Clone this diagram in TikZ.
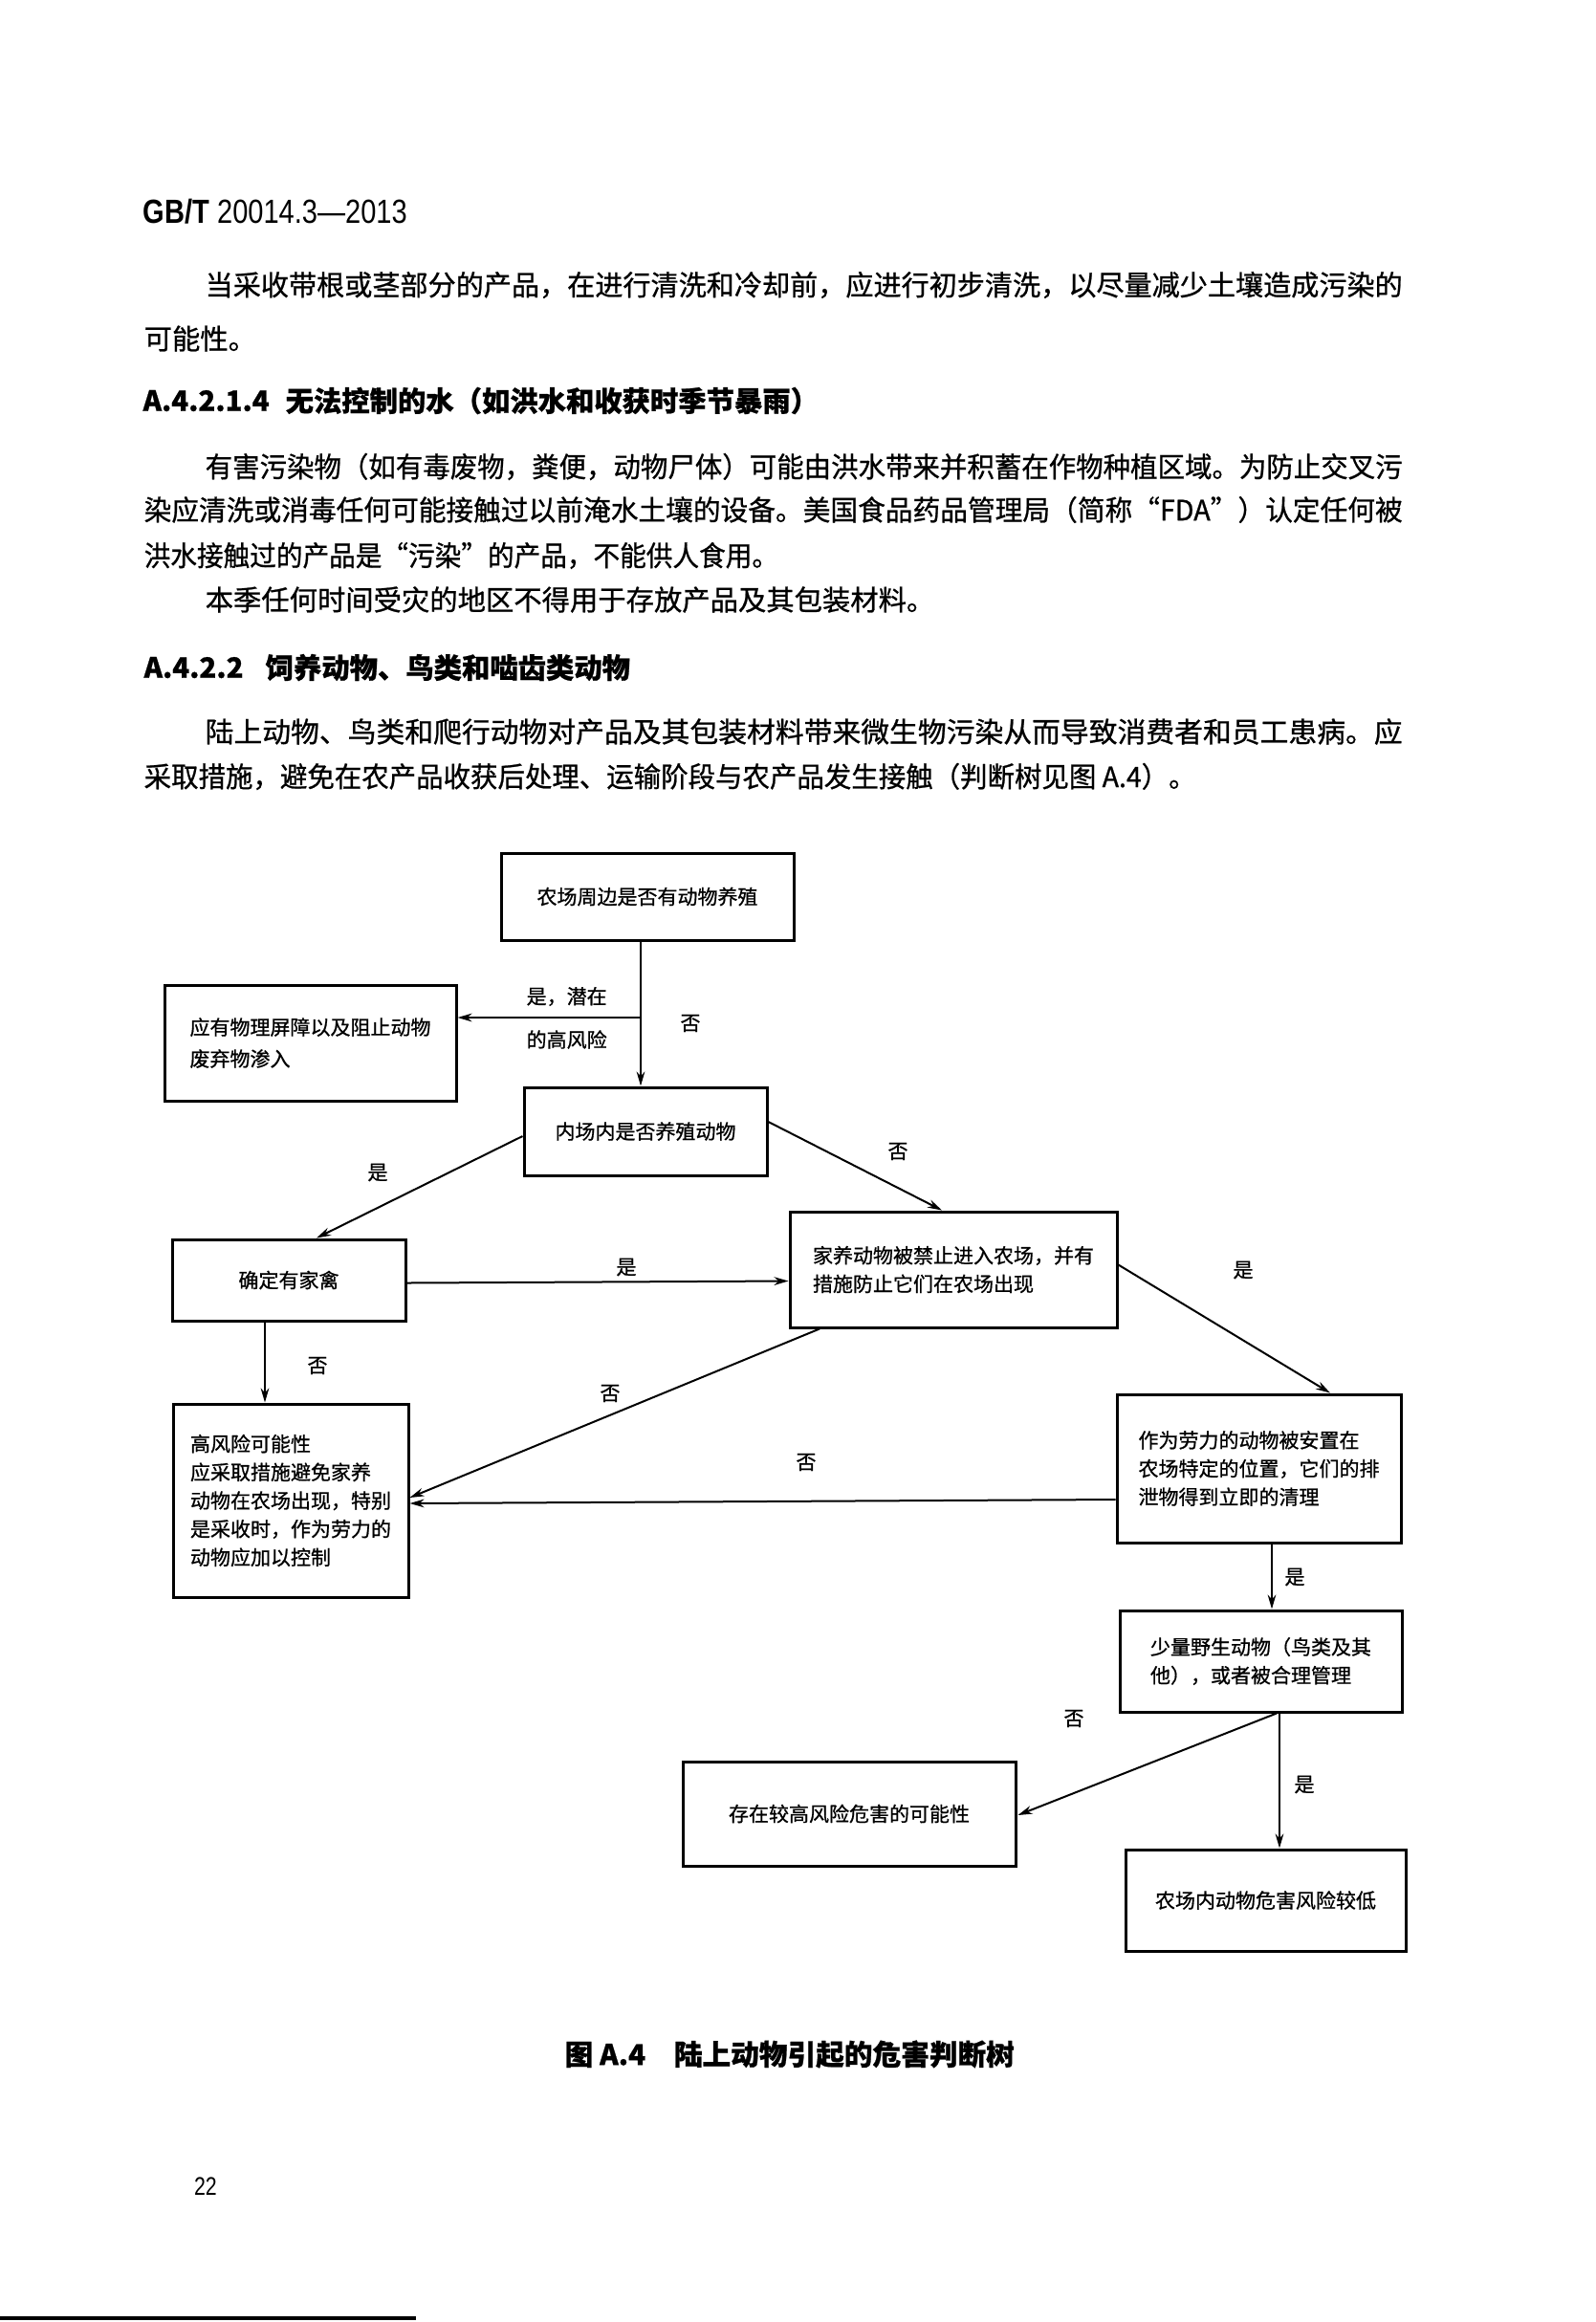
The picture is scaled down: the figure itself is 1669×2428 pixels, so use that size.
\documentclass[tikz,border=0pt]{standalone}
\usepackage{fontspec}
\setmainfont{Noto Sans CJK SC}[FakeBold=0.8]
\newfontfamily\latinfont{Liberation Sans}
\usetikzlibrary{arrows.meta,calc}
\begin{document}
\begin{tikzpicture}[x=0.3pt,y=-0.3pt,
  box/.style={draw, line width=0.9pt, inner sep=0pt, align=left,
    font=\fontsize{6.3pt}{8.9pt}\selectfont},
  lab/.style={inner sep=0pt, font=\fontsize{6.3pt}{8pt}\selectfont},
  conn/.style={line width=0.6pt, -{Stealth[length=4.5pt,width=2.6pt]}},
  body/.style={anchor=west, inner sep=0pt, font=\fontsize{8.8pt}{10pt}\selectfont},
  head/.style={anchor=west, inner sep=0pt, font=\fontsize{8.8pt}{10pt}\selectfont\bfseries}]
\fill[white] (0,0) rectangle (1669,2428);
\useasboundingbox (0,0) rectangle (1669,2428);

% page header and text
\node[anchor=west, inner sep=0pt] (hdr) at (149,221)
  {\scalebox{0.83}[1]{\latinfont\fontsize{10.5pt}{12pt}\selectfont\textbf{GB/T} 20014.3—2013}};
\node[body] (t1) at (214,298) {\resizebox{375.6pt}{\height}{当采收带根或茎部分的产品，在进行清洗和冷却前，应进行初步清洗，以尽量减少土壤造成污染的}};
\node[body] (t2) at (150,354) {可能性。};
\node[head] (h1) at (149,419) {A.4.2.1.4};
\node[head] (h1b) at (298,419) {无法控制的水（如洪水和收获时季节暴雨）};
\node[body] (t3) at (214,488) {\resizebox{375.6pt}{\height}{有害污染物（如有毒废物，粪便，动物尸体）可能由洪水带来并积蓄在作物种植区域。为防止交叉污}};
\node[body] (t4) at (150,533) {\resizebox{394.8pt}{\height}{染应清洗或消毒任何可能接触过以前淹水土壤的设备。美国食品药品管理局（简称“FDA”）认定任何被}};
\node[body] (t5) at (150,581) {\resizebox{199pt}{\height}{洪水接触过的产品是“污染”的产品，不能供人食用。}};
\node[body] (t6) at (214,627) {本季任何时间受灾的地区不得用于存放产品及其包装材料。};
\node[head] (h2) at (150,698) {A.4.2.2};
\node[head] (h2b) at (277,698) {饲养动物、鸟类和啮齿类动物};
\node[body] (t7) at (214,765) {\resizebox{375.6pt}{\height}{陆上动物、鸟类和爬行动物对产品及其包装材料带来微生物污染从而导致消费者和员工患病。应}};
\node[body] (t8) at (150,812) {\resizebox{330pt}{\height}{采取措施，避免在农产品收获后处理、运输阶段与农产品发生接触（判断树见图 A.4）。}};

% flowchart boxes
\node[box, minimum width=91.8pt, minimum height=27.3pt] (B1) at (677,937.5) {农场周边是否有动物养殖};
\node[box, minimum width=91.5pt, minimum height=36.3pt, font=\fontsize{6.3pt}{9.9pt}\selectfont] (B2) at (324.5,1090.5) {应有物理屏障以及阻止动物\\废弃物渗入};
\node[box, minimum width=76.2pt, minimum height=27.6pt] (B3) at (675,1183) {内场内是否养殖动物};
\node[box, minimum width=73.2pt, minimum height=25.5pt] (B4) at (302,1338.5) {确定有家禽};
\node[box, minimum width=102.6pt, minimum height=36.3pt] (B5) at (997,1327.5) {家养动物被禁止进入农场，并有\\措施防止它们在农场出现};
\node[box, minimum width=73.8pt, minimum height=60.6pt] (B6) at (304,1569) {高风险可能性\\应采取措施避免家养\\动物在农场出现，特别\\是采收时，作为劳力的\\动物应加以控制};
\node[box, minimum width=89.1pt, minimum height=46.5pt] (B7) at (1316.5,1535.5) {作为劳力的动物被安置在\\农场特定的位置，它们的排\\泄物得到立即的清理};
\node[box, minimum width=88.5pt, minimum height=31.8pt] (B8) at (1318.5,1737) {少量野生动物（鸟类及其\\他），或者被合理管理};
\node[box, minimum width=104.4pt, minimum height=32.7pt] (B9) at (888,1896.5) {存在较高风险危害的可能性};
\node[box, minimum width=87.9pt, minimum height=31.8pt] (B10) at (1323.5,1987) {农场内动物危害风险较低};

% connectors
\coordinate (j1) at (670,1064);
\draw[conn] (B1.south -| j1) -- (B3.north -| j1);
\draw[conn] (j1) -- (B2.east |- j1);
\draw[conn] ($(B3.west)+(0,5)$) -- ($(B4.north)+(29,0)$);
\draw[conn] ($(B3.east)+(0,-10)$) -- ($(B5.north)+(-12,0)$);
\draw[conn] ($(B4.east)+(0,3)$) -- ($(B5.west)+(0,12)$);
\draw[conn] ($(B4.south)+(-25,0)$) -- ($(B6.north)+(-27,0)$);
\draw[conn] ($(B5.east)+(0,-5)$) -- ($(B7.north)+(74.5,0)$);
\draw[conn] ($(B5.south)+(-140,0)$) -- ($(B6.east)+(0,-3)$);
\draw[conn] ($(B7.west)+(0,32.5)$) -- ($(B6.east)+(0,3)$);
\draw[conn] ($(B7.south)+(13.5,0)$) -- ($(B8.north)+(11.5,0)$);
\draw[conn] ($(B8.south)+(16.5,0)$) -- ($(B9.east)+(1,1.5)$);
\draw[conn] ($(B8.south)+(19.5,0)$) -- ($(B10.north)+(14.5,0)$);

% connector labels
\node[lab, anchor=west] (l1a) at (550,1042) {是，潜在};
\node[lab, anchor=west] (l1b) at (550,1087) {的高风险};
\node[lab] (l1c) at (722,1070) {否};
\node[lab] (l3) at (395,1226) {是};
\node[lab] (l4) at (939,1204) {否};
\node[lab] (l5) at (655,1325) {是};
\node[lab] (l6) at (332,1428) {否};
\node[lab] (l7) at (1300,1328) {是};
\node[lab] (l8) at (638,1457) {否};
\node[lab] (l9) at (843,1529) {否};
\node[lab] (l10) at (1354,1649) {是};
\node[lab] (l11) at (1123,1797) {否};
\node[lab] (l12) at (1364,1866) {是};

% caption and page number
\node[head, font=\fontsize{8.9pt}{10pt}\selectfont\bfseries] (cap) at (590,2148) {图 A.4\hspace{1em}陆上动物引起的危害判断树};
\node[inner sep=0pt] (pg) at (215,2286) {\scalebox{0.8}[1]{\latinfont\fontsize{8pt}{9pt}\selectfont 22}};
\draw[line width=1pt] (0,2424) -- (435,2424);
\end{tikzpicture}
\end{document}
